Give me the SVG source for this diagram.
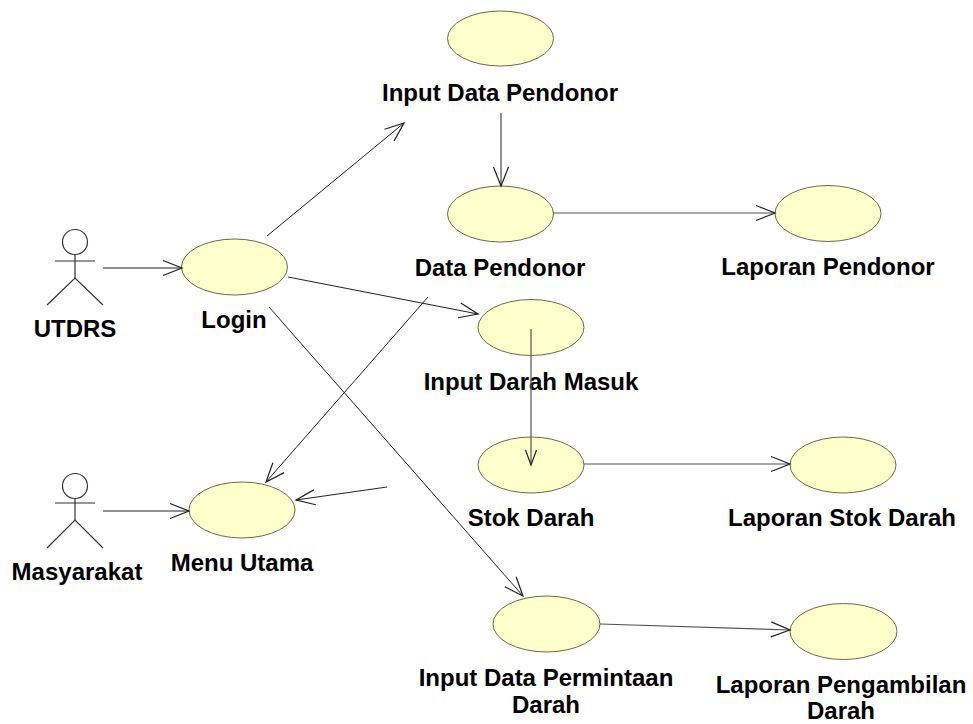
<svg xmlns="http://www.w3.org/2000/svg" width="973" height="724" viewBox="0 0 973 724">
<style>
.uc{fill:#FFFFCC;stroke:#6B6B4A;stroke-width:1}
.lbl{font-family:"Liberation Sans",Arial,sans-serif;font-weight:bold;font-size:24px;fill:#000;text-anchor:middle}
.act{fill:none;stroke:#333;stroke-width:1.2}
.con{fill:none;stroke:#222;stroke-width:1}
.con2{fill:none;stroke:#555;stroke-width:1.2}
</style>
<defs>
<marker id="ah" markerUnits="userSpaceOnUse" markerWidth="24" markerHeight="20" refX="20" refY="8" orient="auto" viewBox="0 0 24 16" overflow="visible">
<path d="M1 0.5 L20 8 L1 15.5" fill="none" stroke="#222" stroke-width="1.2"/>
</marker>
<marker id="ahs" markerUnits="userSpaceOnUse" markerWidth="18" markerHeight="14" refX="16" refY="6" orient="auto" viewBox="0 0 18 12" overflow="visible">
<path d="M1 0.5 L16 6 L1 11.5" fill="none" stroke="#222" stroke-width="1.2"/>
</marker>
</defs>
<rect width="973" height="724" fill="#fff"/>
<g id="utdrs">
<circle class="act" cx="75" cy="242" r="12.5"/>
<line class="act" x1="75" y1="254.5" x2="75" y2="278"/>
<line class="act" x1="55" y1="261" x2="95" y2="261"/>
<polyline class="act" points="47,305 75,278 103,305"/>
<text class="lbl" x="75" y="337">UTDRS</text>
</g>
<g id="masyarakat">
<circle class="act" cx="75" cy="486" r="12.5"/>
<line class="act" x1="75" y1="498.5" x2="75" y2="520"/>
<line class="act" x1="55" y1="503" x2="95" y2="503"/>
<polyline class="act" points="47,548 75,520 103,548"/>
<text class="lbl" x="77" y="580">Masyarakat</text>
</g>
<g id="login">
<ellipse class="uc" cx="234.5" cy="267" rx="53" ry="28"/>
<text class="lbl" x="234" y="328">Login</text>
</g>
<g id="menu-utama">
<ellipse class="uc" cx="242" cy="510" rx="53" ry="28"/>
<text class="lbl" x="242" y="571">Menu Utama</text>
</g>
<g id="input-data-pendonor">
<ellipse class="uc" cx="500.5" cy="38.5" rx="53" ry="27.5"/>
<text class="lbl" x="500" y="101">Input Data Pendonor</text>
</g>
<g id="data-pendonor">
<ellipse class="uc" cx="500.5" cy="214" rx="53" ry="28"/>
<text class="lbl" x="500" y="276">Data Pendonor</text>
</g>
<g id="laporan-pendonor">
<ellipse class="uc" cx="828" cy="213.5" rx="53" ry="28"/>
<text class="lbl" x="828" y="275">Laporan Pendonor</text>
</g>
<g id="input-darah-masuk">
<ellipse class="uc" cx="531" cy="327.5" rx="53" ry="28"/>
<text class="lbl" x="531" y="390">Input Darah Masuk</text>
</g>
<g id="stok-darah">
<ellipse class="uc" cx="531" cy="465" rx="53" ry="28"/>
<text class="lbl" x="531" y="526">Stok Darah</text>
</g>
<g id="laporan-stok-darah">
<ellipse class="uc" cx="843" cy="465" rx="53" ry="28"/>
<text class="lbl" x="842" y="526">Laporan Stok Darah</text>
</g>
<g id="input-data-permintaan-darah">
<ellipse class="uc" cx="546.5" cy="624" rx="53.5" ry="28"/>
<text class="lbl" x="546" y="686">Input Data Permintaan</text>
<text class="lbl" x="546" y="713">Darah</text>
</g>
<g id="laporan-pengambilan-darah">
<ellipse class="uc" cx="843.5" cy="631.5" rx="53.5" ry="28"/>
<text class="lbl" x="841" y="693">Laporan Pengambilan</text>
<text class="lbl" x="841" y="719">Darah</text>
</g>
<g id="connectors">
<line class="con" x1="103" y1="268" x2="182" y2="268" marker-end="url(#ah)"/>
<line class="con" x1="103" y1="511" x2="189" y2="511" marker-end="url(#ah)"/>
<line class="con" x1="267" y1="236" x2="404" y2="123" marker-end="url(#ah)"/>
<line class="con" x1="288" y1="277" x2="478" y2="314" marker-end="url(#ah)"/>
<line class="con" x1="269" y1="307" x2="523" y2="596" marker-end="url(#ah)"/>
<line class="con" x1="428" y1="297" x2="266" y2="482" marker-end="url(#ah)"/>
<line class="con" x1="387" y1="487" x2="296" y2="500" marker-end="url(#ah)"/>
<line class="con" x1="501" y1="113" x2="501" y2="186" marker-end="url(#ah)"/>
<line class="con2" x1="553" y1="213" x2="775" y2="213" marker-end="url(#ah)"/>
<line class="con2" x1="531" y1="329" x2="531" y2="465" marker-end="url(#ahs)"/>
<line class="con2" x1="584" y1="464" x2="790" y2="464" marker-end="url(#ah)"/>
<line class="con2" x1="600" y1="624" x2="790" y2="630" marker-end="url(#ah)"/>
</g>
</svg>
